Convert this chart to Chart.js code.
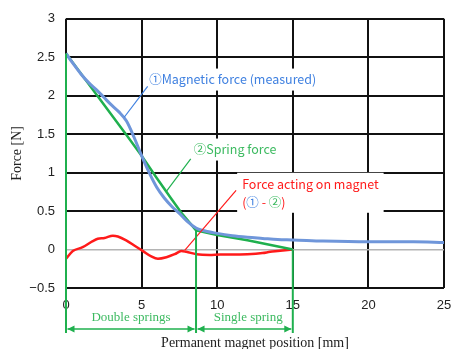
<!DOCTYPE html>
<html>
<head>
<meta charset="utf-8">
<script src="https://cdn.jsdelivr.net/npm/chart.js@4.4.1/dist/chart.umd.min.js"></script>
<style>
  html, body { margin: 0; padding: 0; background: #fff; }
  canvas { display: block; }
</style>
</head>
<body>
<canvas id="grafico" width="451" height="349"></canvas>
<script>
// posição do ímã [mm] e forças [N]
const posMagnetica = [0, 0.5, 1, 1.5, 2, 2.5, 3, 3.5, 4, 4.5, 5, 5.5, 6, 6.5, 7, 7.5, 8, 8.6, 9, 10, 11, 12, 13, 14, 15, 17, 20, 23, 25];
const forcaMagnetica = [2.55, 2.41, 2.28, 2.17, 2.08, 1.98, 1.88, 1.79, 1.67, 1.46, 1.22, 1.0, 0.81, 0.67, 0.56, 0.47, 0.37, 0.28, 0.25, 0.21, 0.18, 0.16, 0.145, 0.13, 0.125, 0.11, 0.1, 0.1, 0.09];

const posMola = [0, 2, 4, 5, 6, 7, 7.7, 8.6, 10, 12, 15];
const forcaMola = [2.55, 2.02, 1.49, 1.22, 0.93, 0.65, 0.46, 0.25, 0.19, 0.12, 0];

const posResultante = [0, 0.45, 1.1, 1.77, 2.1, 2.55, 3.1, 3.43, 3.98, 4.54, 5.09, 5.64, 6.08, 6.64, 7.19, 7.63, 7.96, 8.62, 9.5, 10.2, 11, 12, 13, 13.5, 14, 15];
const forcaResultante = [-0.12, -0.02, 0.03, 0.11, 0.14, 0.15, 0.18, 0.17, 0.12, 0.05, -0.02, -0.09, -0.12, -0.10, -0.06, -0.02, -0.03, -0.06, -0.07, -0.065, -0.065, -0.06, -0.045, -0.03, -0.02, 0];

const ticksX = [0, 5, 10, 15, 20, 25];
const ticksY = [-0.5, 0, 0.5, 1, 1.5, 2, 2.5, 3];

// limites das molas [mm]
const limitesMolas = [0, 8.6, 15];
const inicioLimites = [2.55, 0.25, 0];

const AZUL = '#6f96da';
const AZUL_TXT = '#3f80e0';
const VERDE = '#1fb04e';
const VERDE_TXT = '#3cba60';
const VERMELHO = '#ff1a1a';

function pontos(xs, ys) {
  return xs.map((x, i) => ({ x: x, y: ys[i] }));
}

// rótulos com fundo branco (posições em unidades dos eixos)
const rotulos = [
  { x: 5.5, y: 2.21, linhas: [[['①Magnetic force (measured)', AZUL_TXT]]] },
  { x: 8.45, y: 1.3, linhas: [[['②Spring force', VERDE_TXT]]] },
  { x: 11.65, y: 0.855, linhas: [
      [['Force acting on magnet', VERMELHO]],
      [['(', VERMELHO], ['①', AZUL_TXT], [' - ', VERMELHO], ['②', VERDE_TXT], [')', VERMELHO]]
    ] }
];

const guias = [
  { de: [5.4, 2.12], ate: [3.85, 1.72], cor: AZUL_TXT },
  { de: [8.25, 1.18], ate: [6.65, 0.76], cor: VERDE },
  { de: [11.25, 0.77], ate: [7.85, -0.01], cor: VERMELHO }
];

const plugFiguras = {
  id: 'figuras',
  beforeDatasetsDraw(chart) {
    const ctx = chart.ctx;
    const sx = chart.scales.x, sy = chart.scales.y;
    ctx.save();
    ctx.font = '12.5px "Noto Sans CJK JP", "Liberation Sans", sans-serif';
    ctx.textBaseline = 'middle';
    rotulos.forEach(r => {
      const x0 = sx.getPixelForValue(r.x);
      const y0 = sy.getPixelForValue(r.y);
      let larg = 0;
      r.linhas.forEach(l => {
        let w = 0;
        l.forEach(p => { w += ctx.measureText(p[0]).width; });
        larg = Math.max(larg, w);
      });
      const alt = 18 * r.linhas.length;
      ctx.fillStyle = '#fff';
      ctx.fillRect(x0 - 5, y0 - 11, larg + 10, alt + 4);
      r.linhas.forEach((l, i) => {
        let x = x0;
        l.forEach(p => {
          ctx.fillStyle = p[1];
          ctx.fillText(p[0], x, y0 + i * 18);
          x += ctx.measureText(p[0]).width;
        });
      });
    });
    ctx.restore();
  },
  afterDatasetsDraw(chart) {
    const ctx = chart.ctx;
    const sx = chart.scales.x, sy = chart.scales.y;
    const ySeta = 329;
    ctx.save();
    // linhas guia
    ctx.lineWidth = 1.2;
    guias.forEach(g => {
      ctx.strokeStyle = g.cor;
      ctx.beginPath();
      ctx.moveTo(sx.getPixelForValue(g.de[0]), sy.getPixelForValue(g.de[1]));
      ctx.lineTo(sx.getPixelForValue(g.ate[0]), sy.getPixelForValue(g.ate[1]));
      ctx.stroke();
    });
    // limites verticais
    ctx.strokeStyle = VERDE;
    ctx.lineWidth = 2;
    limitesMolas.forEach((m, i) => {
      const px = sx.getPixelForValue(m);
      ctx.beginPath();
      ctx.moveTo(px, sy.getPixelForValue(inicioLimites[i]));
      ctx.lineTo(px, ySeta + 4);
      ctx.stroke();
    });
    // setas
    ctx.fillStyle = VERDE;
    ctx.lineWidth = 1.6;
    for (let i = 0; i < limitesMolas.length - 1; i++) {
      const a = sx.getPixelForValue(limitesMolas[i]) + 1.5;
      const b = sx.getPixelForValue(limitesMolas[i + 1]) - 1.5;
      ctx.beginPath();
      ctx.moveTo(a, ySeta);
      ctx.lineTo(b, ySeta);
      ctx.stroke();
      ctx.beginPath();
      ctx.moveTo(a, ySeta); ctx.lineTo(a + 7, ySeta - 3.5); ctx.lineTo(a + 7, ySeta + 3.5); ctx.closePath();
      ctx.moveTo(b, ySeta); ctx.lineTo(b - 7, ySeta - 3.5); ctx.lineTo(b - 7, ySeta + 3.5); ctx.closePath();
      ctx.fill();
    }
    // textos das molas
    ctx.font = '13px "Liberation Serif", serif';
    ctx.textAlign = 'center';
    ctx.textBaseline = 'middle';
    ctx.fillStyle = VERDE_TXT;
    ctx.fillText('Double springs', sx.getPixelForValue(4.3), 318);
    ctx.fillText('Single spring', sx.getPixelForValue(12.05), 318);
    ctx.restore();
  }
};

new Chart(document.getElementById('grafico'), {
  type: 'line',
  data: {
    datasets: [
      { data: pontos(posMagnetica, forcaMagnetica), borderColor: AZUL, borderWidth: 3, pointRadius: 0, cubicInterpolationMode: 'monotone' },
      { data: pontos(posMola, forcaMola), borderColor: VERDE, borderWidth: 2.5, pointRadius: 0, tension: 0 },
      { data: pontos(posResultante, forcaResultante), borderColor: VERMELHO, borderWidth: 2.5, pointRadius: 0, cubicInterpolationMode: 'monotone' }
    ]
  },
  options: {
    responsive: false,
    animation: false,
    layout: { padding: { top: 17, right: 0, left: 0, bottom: 0 } },
    plugins: { legend: { display: false }, tooltip: { enabled: false } },
    scales: {
      x: {
        type: 'linear', min: 0, max: 25,
        afterBuildTicks: s => { s.ticks = ticksX.map(v => ({ value: v })); },
        afterFit: s => { s.height = 61; s.paddingLeft = 0; s.paddingRight = 7; },
        border: { display: false },
        grid: { color: '#111', lineWidth: 2, drawTicks: false },
        ticks: { color: '#222', padding: 10, maxRotation: 0, font: { family: 'Liberation Sans', size: 13 } },
        title: { display: true, text: 'Permanent magnet position [mm]', color: '#222',
                 font: { family: 'Liberation Serif', size: 14, lineHeight: 0.8 }, padding: 0 }
      },
      y: {
        min: -0.5, max: 3,
        afterBuildTicks: s => { s.ticks = ticksY.map(v => ({ value: v })); },
        afterFit: s => { s.width = 66; },
        border: { display: false },
        grid: {
          drawTicks: false,
          color: c => c.tick.value === 0 ? '#b4b4b4' : '#111',
          lineWidth: c => c.tick.value === 0 ? 1.5 : 2
        },
        ticks: { color: '#222', padding: 11, font: { family: 'Liberation Sans', size: 13 },
                 callback: v => String(v).replace('-', '−') },
        title: { display: true, text: 'Force [N]', color: '#222',
                 font: { family: 'Liberation Serif', size: 14 }, padding: { top: 9, bottom: 0 } }
      }
    }
  },
  plugins: [plugFiguras]
});
</script>
</body>
</html>
